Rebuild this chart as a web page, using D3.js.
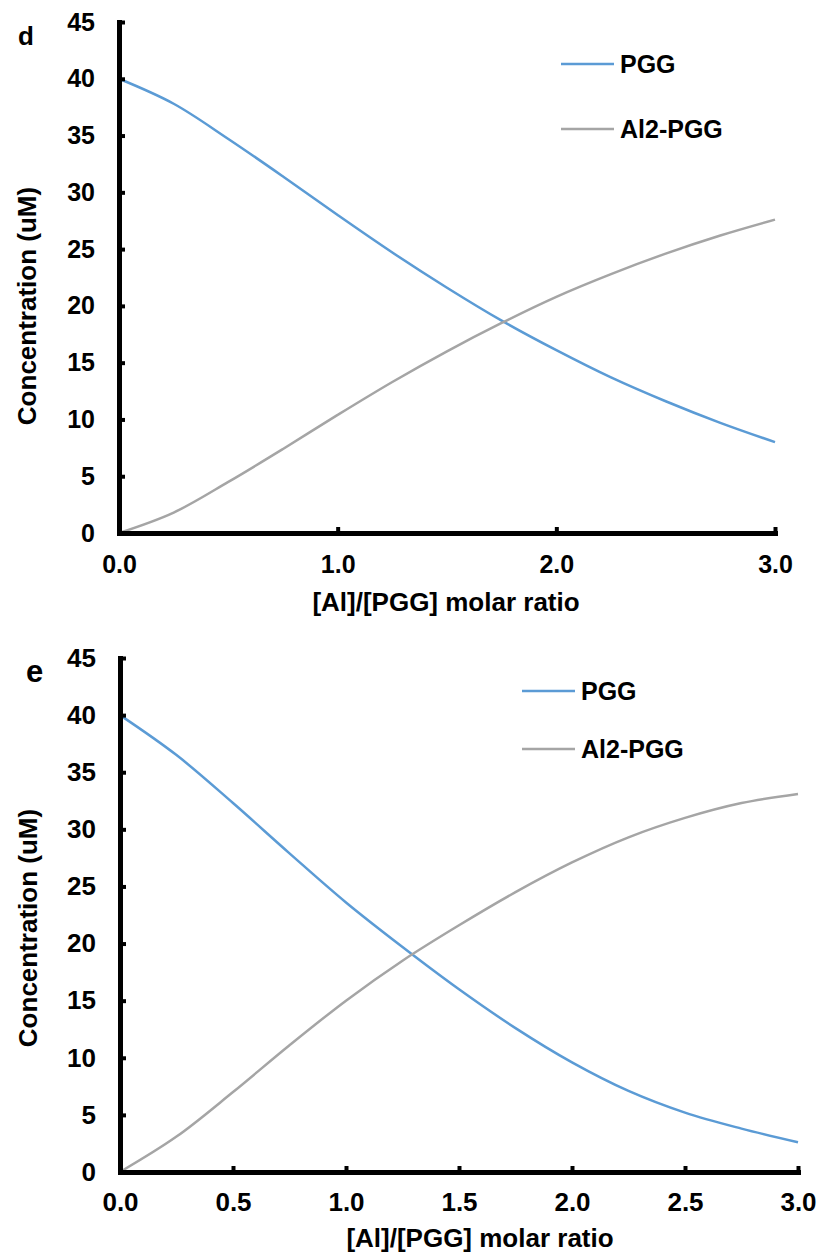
<!DOCTYPE html>
<html>
<head>
<meta charset="utf-8">
<script src="https://cdn.jsdelivr.net/npm/d3@7"></script>
<style>
  body { margin: 0; background: #fff; }
  text { font-family: "Liberation Sans", Arial, sans-serif; font-weight: bold; fill: #000; }
</style>
</head>
<body>
<div id="chart"></div>
<script>
// molar ratio sampled every 0.25
var ratio = [0, 0.25, 0.5, 0.75, 1.0, 1.25, 1.5, 1.75, 2.0, 2.25, 2.5, 2.75, 3.0];

// panel d
var pggD = [40, 37.8, 34.7, 31.4, 28.0, 24.7, 21.6, 18.7, 16.1, 13.7, 11.6, 9.7, 8.0];
var al2D = [0, 1.8, 4.5, 7.4, 10.4, 13.3, 16.0, 18.5, 20.8, 22.8, 24.6, 26.2, 27.6];

// panel e
var pggE = [40, 36.5, 32.3, 27.9, 23.6, 19.7, 16.0, 12.6, 9.6, 7.1, 5.2, 3.8, 2.6];
var al2E = [0, 3.1, 7.0, 11.1, 15.0, 18.5, 21.6, 24.5, 27.1, 29.3, 31.0, 32.3, 33.1];

var xTicksD = [0, 1, 2, 3];
var xTicksE = [0, 0.5, 1, 1.5, 2, 2.5, 3];
var yTicks = [0, 5, 10, 15, 20, 25, 30, 35, 40, 45];

var seriesNames = ["PGG", "Al2-PGG"];
var seriesColors = ["#5B9BD5", "#A5A5A5"];
var xTitle = "[Al]/[PGG] molar ratio";
var yTitle = "Concentration (uM)";

var svg = d3.select("#chart").append("svg")
  .attr("width", 822)
  .attr("height", 1253);

function drawPanel(p) {
  var x = d3.scaleLinear().domain([0, 3]).range([p.x0, p.x1]);
  var y = d3.scaleLinear().domain([0, 45]).range([p.y0, p.y1]);

  var g = svg.append("g");

  // series lines
  var line = d3.line()
    .x(function(d) { return x(d[0]); })
    .y(function(d) { return y(d[1]); })
    .curve(d3.curveCatmullRom.alpha(0.5));

  p.series.forEach(function(s, i) {
    g.append("path")
      .datum(ratio.map(function(r, j) { return [r, s[j]]; }))
      .attr("fill", "none")
      .attr("stroke", seriesColors[i])
      .attr("stroke-width", 2.5)
      .attr("d", line);
  });

  // y axis, ticks point inward
  var yAxis = g.append("g")
    .attr("transform", "translate(" + p.x0 + ",0)")
    .call(d3.axisLeft(y).tickValues(yTicks).tickFormat(d3.format("d"))
      .tickSize(-6).tickSizeOuter(0).tickPadding(p.yPad));

  var xAxis = g.append("g")
    .attr("transform", "translate(0," + p.y0 + ")")
    .call(d3.axisBottom(x).tickValues(p.xTicks).tickFormat(d3.format(".1f"))
      .tickSize(-6).tickSizeOuter(0).tickPadding(p.xPad));

  [yAxis, xAxis].forEach(function(a) {
    a.select(".domain").attr("stroke", "#000").attr("stroke-width", 5)
      .attr("stroke-linecap", "square");
    a.selectAll(".tick line").attr("stroke", "#000").attr("stroke-width", 4);
    a.selectAll(".tick text")
      .style("font-family", "'Liberation Sans', Arial, sans-serif")
      .style("font-weight", "bold")
      .style("font-size", p.tickFont + "px")
      .attr("fill", "#000");
  });

  // axis titles
  g.append("text")
    .attr("x", p.xTitleX)
    .attr("y", p.xTitleY)
    .attr("text-anchor", "middle")
    .style("font-size", "26px")
    .text(xTitle);

  g.append("text")
    .attr("transform", "translate(" + p.yTitleX + "," + p.yTitleY + ") rotate(-90)")
    .attr("text-anchor", "middle")
    .style("font-size", "26px")
    .text(yTitle);

  // panel letter
  g.append("text")
    .attr("x", p.letterX)
    .attr("y", p.letterY)
    .style("font-size", p.letterFont + "px")
    .text(p.letter);

  // legend
  seriesNames.forEach(function(name, i) {
    var ly = p.legY + i * p.legGap;
    g.append("line")
      .attr("x1", p.legX).attr("x2", p.legX + 53)
      .attr("y1", ly).attr("y2", ly)
      .attr("stroke", seriesColors[i])
      .attr("stroke-width", 2.5);
    g.append("text")
      .attr("x", p.legX + 59)
      .attr("y", ly + 9)
      .style("font-size", "25px")
      .text(name);
  });
}

drawPanel({
  letter: "d", letterX: 18, letterY: 45, letterFont: 26,
  x0: 119, x1: 775, y0: 533, y1: 22,
  xTicks: xTicksD, yPad: 24, xPad: 22, tickFont: 25,
  series: [pggD, al2D],
  xTitleX: 446, xTitleY: 611,
  yTitleX: 36, yTitleY: 306,
  legX: 561, legY: 64, legGap: 65
});

drawPanel({
  letter: "e", letterX: 26, letterY: 682, letterFont: 31,
  x0: 120, x1: 798, y0: 1172, y1: 658,
  xTicks: xTicksE, yPad: 24, xPad: 21, tickFont: 26,
  series: [pggE, al2E],
  xTitleX: 480, xTitleY: 1247,
  yTitleX: 37, yTitleY: 928,
  legX: 522, legY: 691, legGap: 58
});
</script>
</body>
</html>
